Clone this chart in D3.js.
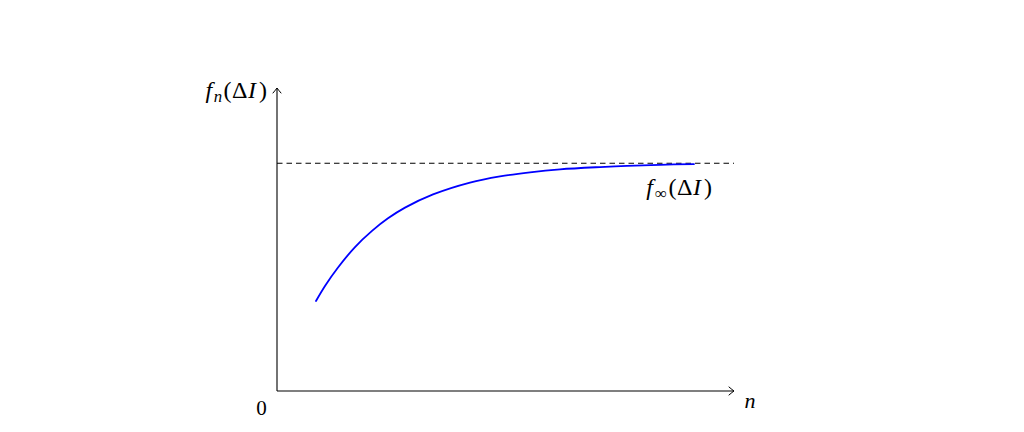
<!DOCTYPE html>
<html>
<head>
<meta charset="utf-8">
<script src="https://cdn.jsdelivr.net/npm/d3@7"></script>
<style>
  html, body { margin: 0; padding: 0; background: #fff; }
  svg { display: block; }
  text { font-family: "Times New Roman", "Liberation Serif", Times, serif; fill: #000; }
</style>
</head>
<body>
<svg id="chart" width="1024" height="432"></svg>
<script>
// ---- data ----
const nValues = [0.853, 1.050, 1.335, 1.707, 2.079, 2.429, 2.801, 3.414, 4.223, 4.880, 5.536, 6.193, 7.068, 7.659, 8.381, 9.125];
const fValues = [0.395, 0.461, 0.542, 0.632, 0.703, 0.758, 0.805, 0.863, 0.915, 0.942, 0.960, 0.973, 0.983, 0.988, 0.993, 0.996];
const fLimit = [1.0];           // f_inf(ΔI) asymptote
const xDomain = [0, 10];
const yDomain = [0, 1.33];

(function () {
const svg = d3.select("#chart");
const pLeft = 277, pRight = 734, pBottom = 391, pTop = 88;
const serif = "'Times New Roman', 'Liberation Serif', Times, serif";

const x = d3.scaleLinear().domain(xDomain).range([pLeft, pRight]);
const y = d3.scaleLinear().domain(yDomain).range([pBottom, pTop]);

// arrow marker (TikZ-like "->")
const defs = svg.append("defs");
defs.append("marker")
  .attr("id", "arr")
  .attr("viewBox", "-6 -5 8 10")
  .attr("refX", 0).attr("refY", 0)
  .attr("markerWidth", 8).attr("markerHeight", 10)
  .attr("markerUnits", "userSpaceOnUse")
  .attr("orient", "auto")
  .append("path")
  .attr("d", "M-5,-4 Q-1.5,-1 0,0 Q-1.5,1 -5,4")
  .attr("fill", "none").attr("stroke", "#000").attr("stroke-width", 1)
  .attr("stroke-linecap", "round");

// dashed asymptote
svg.append("line")
  .attr("x1", x(xDomain[0])).attr("x2", x(xDomain[1]))
  .attr("y1", y(fLimit[0])).attr("y2", y(fLimit[0]))
  .attr("stroke", "#000").attr("stroke-width", 1.1)
  .attr("stroke-dasharray", "5.5,4");

// curve
const line = d3.line()
  .x((d, i) => x(nValues[i]))
  .y(d => y(d))
  .curve(d3.curveCatmullRom.alpha(0.5));
svg.append("path")
  .attr("d", line(fValues))
  .attr("fill", "none")
  .attr("stroke", "#0000ff")
  .attr("stroke-width", 1.8)
  .attr("stroke-linecap", "round");

// axes
svg.append("line")
  .attr("x1", x(0)).attr("y1", y(0))
  .attr("x2", x(xDomain[1])).attr("y2", y(0))
  .attr("stroke", "#000").attr("stroke-width", 1.1)
  .attr("marker-end", "url(#arr)");
svg.append("line")
  .attr("x1", x(0)).attr("y1", y(0))
  .attr("x2", x(0)).attr("y2", y(yDomain[1]))
  .attr("stroke", "#000").attr("stroke-width", 1.1)
  .attr("marker-end", "url(#arr)");

// labels
const fs = 24;
const yl = svg.append("text")
  .attr("x", x(0) - 10).attr("y", y(yDomain[1]) + 10)
  .attr("text-anchor", "end")
  .attr("font-family", serif)
  .attr("font-size", fs);
yl.append("tspan").attr("font-style", "italic").text("f");
yl.append("tspan").attr("font-style", "italic").attr("font-size", fs * 0.7).attr("dx", 1.5).attr("dy", 4).text("n");
yl.append("tspan").attr("dx", 1.5).attr("dy", -4).text("(");
yl.append("tspan").attr("dx", 0.5).text("Δ");
yl.append("tspan").attr("font-style", "italic").attr("dx", 0.5).text("I");
yl.append("tspan").attr("dx", 3).text(")");

const fl = svg.append("text")
  .attr("x", x(8.8)).attr("y", y(fLimit[0]) + 32)
  .attr("text-anchor", "middle")
  .attr("font-family", serif)
  .attr("font-size", fs);
fl.append("tspan").attr("font-style", "italic").text("f");
fl.append("tspan").attr("font-size", fs * 0.7).attr("dx", 2).attr("dy", 4).text("∞");
fl.append("tspan").attr("dx", 1.5).attr("dy", -4).text("(");
fl.append("tspan").attr("dx", 0.5).text("Δ");
fl.append("tspan").attr("font-style", "italic").attr("dx", 0.5).text("I");
fl.append("tspan").attr("dx", 3).text(")");

svg.append("text")
  .attr("x", x(0) - 15.5).attr("y", y(0) + 24)
  .attr("text-anchor", "middle")
  .attr("font-family", serif)
  .attr("font-size", 21)
  .text("0");

svg.append("text")
  .attr("x", x(xDomain[1]) + 16).attr("y", y(0) + 17)
  .attr("text-anchor", "middle")
  .attr("font-family", serif)
  .attr("font-size", 22)
  .attr("font-style", "italic")
  .text("n");
})();
</script>
</body>
</html>
